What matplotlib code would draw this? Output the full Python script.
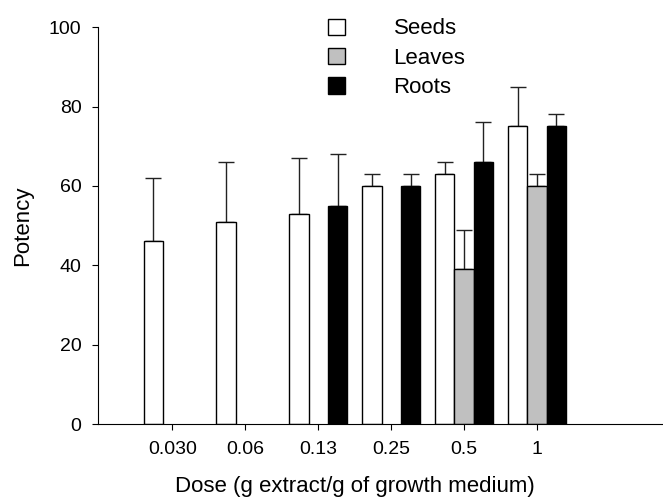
import numpy as np
import matplotlib.pyplot as plt
from matplotlib.patches import Patch

plt.rcParams['font.family'] = ['Liberation Sans', 'DejaVu Sans']

doses = ['0.030', '0.06', '0.13', '0.25', '0.5', '1']

# NaN where there is no bar
seeds = [46, 51, 53, 60, 63, 75]
seeds_err = [16, 15, 14, 3, 3, 10]
leaves = [np.nan, np.nan, np.nan, np.nan, 39, 60]
leaves_err = [np.nan, np.nan, np.nan, np.nan, 10, 3]
roots = [np.nan, np.nan, 55, 60, 66, 75]
roots_err = [np.nan, np.nan, 13, 3, 10, 3]

series = [('Seeds', seeds, seeds_err, 'white'),
          ('Leaves', leaves, leaves_err, '#c0c0c0'),
          ('Roots', roots, roots_err, 'black')]

fig = plt.figure(figsize=(6.63, 5.03), dpi=100)
ax = fig.add_axes([0.148, 0.157, 0.85, 0.789])

x = np.arange(len(doses))
w = 0.265
for k, (name, vals, errs, col) in enumerate(series):
    pos = x + (k - 1) * w
    vals = np.array(vals, dtype=float)
    errs = np.array(errs, dtype=float)
    ok = ~np.isnan(vals)
    ax.bar(pos[ok], vals[ok], width=w, color=col, edgecolor='black', linewidth=1.0, zorder=2)
    ax.errorbar(pos[ok], vals[ok], yerr=[np.zeros(ok.sum()), errs[ok]], fmt='none',
                ecolor='#222222', elinewidth=1.0, capsize=6, capthick=1.0, zorder=1)

ax.set_xlim(-1.02, 6.71)
ax.set_ylim(0, 100)
ax.set_yticks([0, 20, 40, 60, 80, 100])
ax.set_xticks(x)
ax.set_xticklabels(doses)
for s in ['top', 'right']:
    ax.spines[s].set_visible(False)
ax.tick_params(labelsize=14, length=4, width=0.8, pad=8)
ax.set_ylabel('Potency', fontsize=16)
ax.set_xlabel('Dose (g extract/g of growth medium)', fontsize=16)
ax.yaxis.set_label_coords(-0.115, 0.5)
ax.xaxis.set_label_coords(0.456, -0.13)

handles = [Patch(facecolor=c, edgecolor='black', linewidth=1.0) for _, _, _, c in series]
ax.legend(handles, [s[0] for s in series], loc='upper left', bbox_to_anchor=(0.408, 1.022),
          frameon=False, fontsize=16, handlelength=0.75, handleheight=0.75,
          handletextpad=2.2, labelspacing=0.38, borderaxespad=0, borderpad=0)

fig.savefig('out.png', dpi=100)
